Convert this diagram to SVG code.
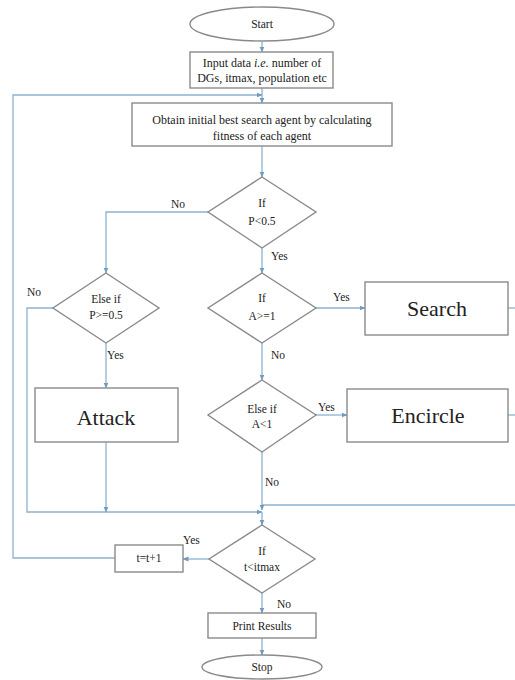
<svg xmlns="http://www.w3.org/2000/svg" width="515" height="680" viewBox="0 0 515 680">
<defs>
<marker id="ah" markerWidth="6" markerHeight="6" refX="5.5" refY="3" orient="auto" markerUnits="userSpaceOnUse">
<path d="M0,0.5 L6,3 L0,5.5 Z" fill="#6f9cc0"/>
</marker>
<style>
.shape{fill:#ffffff;stroke:#8a8a8a;stroke-width:1.4}
.conn{fill:none;stroke:#8db2cf;stroke-width:1.3}
.arr{marker-end:url(#ah)}
text{font-family:"Liberation Serif","Times New Roman",serif;fill:#222222;text-anchor:middle}
.s{font-size:11.5px}
.m{font-size:12px}
.big{font-size:22px}
.lbl{font-size:11.5px;text-anchor:start}
</style>
</defs>
<rect width="515" height="680" fill="#ffffff"/>

<g id="connectors">
<path class="conn arr" d="M262,42 V52"/>
<path class="conn arr" d="M262,88 V103"/>
<path class="conn arr" d="M115,558 H13 V95 H262"/>
<path class="conn arr" d="M262,146 V177"/>
<path class="conn arr" d="M208,212 H106 V273"/>
<path class="conn arr" d="M262,248 V273"/>
<path class="conn arr" d="M106,343 V388"/>
<path class="conn arr" d="M53,308 H27 V512 H262"/>
<path class="conn arr" d="M316,308 H365"/>
<path class="conn arr" d="M262,343 V380"/>
<path class="conn arr" d="M316,415 H347"/>
<path class="conn" d="M508,308 H515"/>
<path class="conn" d="M508,415 H515"/>
<path class="conn" d="M515,505 H262"/>
<path class="conn arr" d="M262,452 V510"/>
<path class="conn arr" d="M262,512 V525"/>
<path class="conn arr" d="M106,442 V512"/>
<path class="conn arr" d="M209,559 H183"/>
<path class="conn arr" d="M262,593 V613"/>
<path class="conn arr" d="M262,638 V655"/>
<text class="lbl" x="171" y="208">No</text>
<text class="lbl" x="271" y="260">Yes</text>
<text class="lbl" x="27" y="296">No</text>
<text class="lbl" x="107" y="359">Yes</text>
<text class="lbl" x="333" y="301">Yes</text>
<text class="lbl" x="271" y="359">No</text>
<text class="lbl" x="318" y="411">Yes</text>
<text class="lbl" x="265" y="486">No</text>
<text class="lbl" x="183" y="544">Yes</text>
<text class="lbl" x="277" y="608">No</text>
</g>

<g id="start">
<ellipse class="shape" cx="262" cy="24" rx="72" ry="17"/>
<text class="s" x="262" y="28">Start</text>
</g>

<g id="input">
<rect class="shape" x="190" y="52" width="143" height="36"/>
<text class="m" x="262" y="67">Input data <tspan font-style="italic">i.e.</tspan> number of</text>
<text class="m" x="262" y="82">DGs, itmax, population etc</text>
</g>

<g id="obtain">
<rect class="shape" x="132" y="103" width="260" height="43"/>
<text class="m" x="262" y="124">Obtain initial best search agent by calculating</text>
<text class="m" x="262" y="140">fitness of each agent</text>
</g>

<g id="if-p">
<polygon class="shape" points="262,177 316,212 262,248 208,212"/>
<text class="s" x="262" y="207">If</text>
<text class="s" x="262" y="225">P&lt;0.5</text>
</g>

<g id="elseif-p">
<polygon class="shape" points="106,273 159,308 106,343 53,308"/>
<text class="s" x="106" y="303">Else if</text>
<text class="s" x="106" y="319">P&gt;=0.5</text>
</g>

<g id="if-a">
<polygon class="shape" points="262,273 316,308 262,343 208,308"/>
<text class="s" x="262" y="302">If</text>
<text class="s" x="262" y="320">A&gt;=1</text>
</g>

<g id="search">
<rect class="shape" x="365" y="282" width="143" height="53"/>
<text class="big" x="437" y="316">Search</text>
</g>

<g id="attack">
<rect class="shape" x="35" y="388" width="143" height="54"/>
<text class="big" x="106" y="425">Attack</text>
</g>

<g id="elseif-a">
<polygon class="shape" points="262,380 316,415 262,452 208,415"/>
<text class="s" x="262" y="413">Else if</text>
<text class="s" x="262" y="428">A&lt;1</text>
</g>

<g id="encircle">
<rect class="shape" x="347" y="389" width="161" height="53"/>
<text class="big" x="428" y="423">Encircle</text>
</g>

<g id="if-t">
<polygon class="shape" points="262,525 315,559 262,593 209,559"/>
<text class="s" x="262" y="555">If</text>
<text class="s" x="262" y="571">t&lt;itmax</text>
</g>

<g id="increment">
<rect class="shape" x="115" y="545" width="68" height="27"/>
<text class="s" x="149" y="562">t=t+1</text>
</g>

<g id="print">
<rect class="shape" x="208" y="613" width="108" height="25"/>
<text class="s" x="262" y="630">Print Results</text>
</g>

<g id="stop">
<ellipse class="shape" cx="262" cy="667" rx="60" ry="12"/>
<text class="s" x="262" y="671">Stop</text>
</g>
</svg>
